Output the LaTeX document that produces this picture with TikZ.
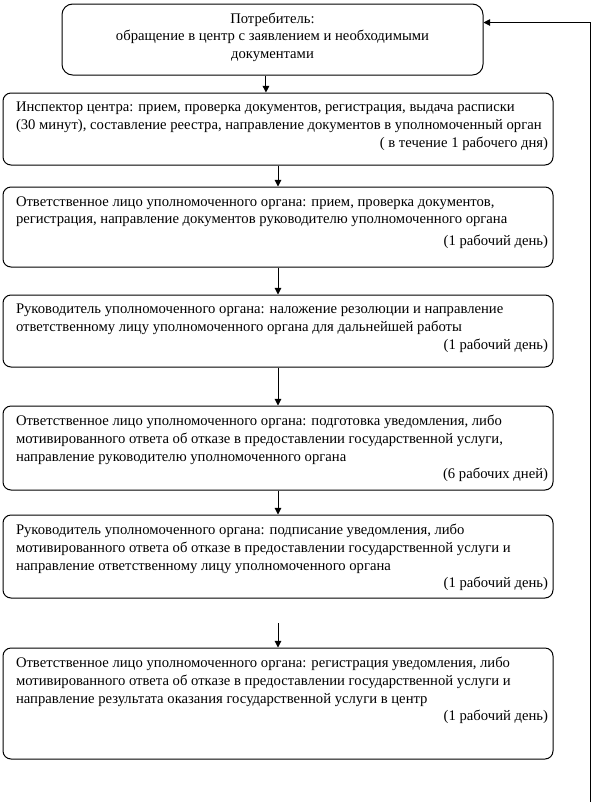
\documentclass[tikz,border=0pt]{standalone}
\usepackage{fontspec}
\setmainfont{Liberation Serif}
\usetikzlibrary{arrows.meta}
\newcommand{\stagetext}[2]{\hspace*{6pt}\parbox[c][\dimexpr#1-14pt\relax][t]{399pt}{\fontsize{11pt}{13.2pt}\selectfont #2}}

\begin{document}
\begin{tikzpicture}[x=0.75pt,y=-0.75pt,
    stage/.style={draw, line width=0.75pt, rounded corners=6pt, inner sep=0pt,
      minimum width=412.5pt, minimum height=#1},
    arr/.style={-{Triangle[width=5pt,length=5pt]}, line width=0.75pt}]
  \useasboundingbox (0,0) rectangle (592,808);
  \draw
    (272.5,39.5) node[stage=53.25pt, minimum width=315.75pt, rounded corners=8pt] (consumer)
      {\parbox[c][\dimexpr53.25pt-13pt\relax][t]{310pt}{\fontsize{11pt}{13.2pt}\selectfont\centering
        Потребитель:\\ обращение в центр с заявлением и необходимыми\\ документами}}
    (278,129) node[stage=54pt] (inspector)
      {\stagetext{54pt}{Инспектор центра: прием, проверка документов, регистрация, выдача расписки\\ (30 минут), составление реестра, направление документов в уполномоченный орган\\ \hspace*{\fill}( в течение 1 рабочего дня)}}
    (278,227) node[stage=60pt] (officer1)
      {\stagetext{60pt}{Ответственное лицо уполномоченного органа: прием, проверка документов,\\ регистрация, направление документов руководителю уполномоченного органа\\[3pt] \hspace*{\fill}(1 рабочий день)}}
    (278,331) node[stage=54pt] (head1)
      {\stagetext{54pt}{Руководитель уполномоченного органа: наложение резолюции и направление\\ ответственному лицу уполномоченного органа для дальнейшей работы\\ \hspace*{\fill}(1 рабочий день)}}
    (278,448) node[stage=63pt] (officer2)
      {\stagetext{63pt}{Ответственное лицо уполномоченного органа: подготовка уведомления, либо\\ мотивированного ответа об отказе в предоставлении государственной услуги,\\ направление руководителю уполномоченного органа\\ \hspace*{\fill}(6 рабочих дней)}}
    (278,556.5) node[stage=62.25pt] (head2)
      {\stagetext{62.25pt}{Руководитель уполномоченного органа: подписание уведомления, либо\\ мотивированного ответа об отказе в предоставлении государственной услуги и\\ направление ответственному лицу уполномоченного органа\\ \hspace*{\fill}(1 рабочий день)}}
    (278,703.5) node[stage=83.25pt] (officer3)
      {\stagetext{83.25pt}{Ответственное лицо уполномоченного органа: регистрация уведомления, либо\\ мотивированного ответа об отказе в предоставлении государственной услуги и\\ направление результата оказания государственной услуги в центр\\ \hspace*{\fill}(1 рабочий день)}};
  \coordinate (gap) at (278,623);
  \coordinate (back) at (590,802);
  \begin{scope}[arr]
    \draw ([xshift=-4.9pt]consumer.south) -- ([xshift=-4.9pt]consumer.south |- inspector.north);
    \draw (inspector.south) -- (officer1.north);
    \draw (officer1.south) -- (head1.north);
    \draw (head1.south) -- (officer2.north);
    \draw (officer2.south) -- (head2.north);
    \draw (gap) -- (officer3.north);
    \draw (back) |- ([yshift=-14.25pt]consumer.north east);
  \end{scope}
\end{tikzpicture}
\end{document}
